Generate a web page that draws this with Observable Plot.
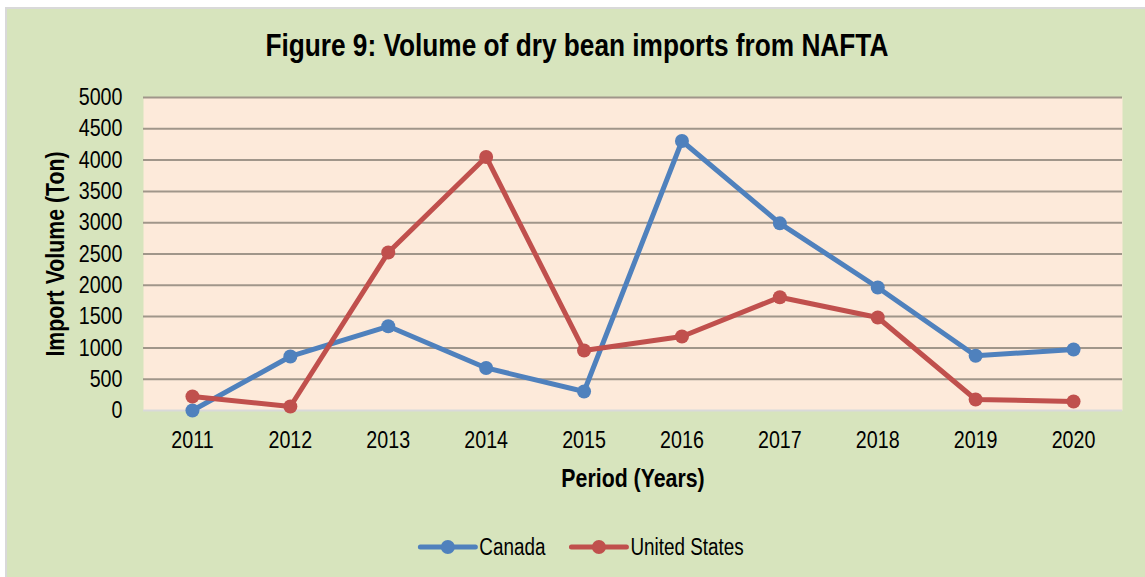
<!DOCTYPE html>
<html>
<head>
<meta charset="utf-8">
<script src="https://cdn.jsdelivr.net/npm/d3@7"></script>
<script src="https://cdn.jsdelivr.net/npm/@observablehq/plot@0.6"></script>
<style>
  html, body { margin: 0; padding: 0; background: #ffffff; }
  body { width: 1145px; height: 577px; overflow: hidden; position: relative;
         font-family: "Liberation Sans", Arial, sans-serif; }
  #frame { position: absolute; left: 5px; top: 7px; width: 1140px; height: 570px;
           border-left: 2px solid #d9d9d9; border-top: 2px solid #d9d9d9; background: #d7e4bd; }
  #title { position: absolute; left: 0; top: 18px; width: 100%; text-align: center;
           font-size: 32px; font-weight: bold; line-height: 36px; color: #000; }
  #title span { display: inline-block; transform: scaleX(0.82); transform-origin: center; white-space: nowrap; }
  #chart { position: absolute; left: 0; top: 0; }
  #chart svg, #legend svg { font-family: "Liberation Sans", Arial, sans-serif; }
  g[aria-label="x-axis label"] text, g[aria-label="y-axis label"] text { font-weight: bold; font-size: 26px; }
  #legend { position: absolute; left: 0; top: 512px; }
</style>
</head>
<body>
<div id="frame">
  <div id="title"><span>Figure 9: Volume of dry bean imports from NAFTA</span></div>
  <div id="chart"></div>
  <div id="legend"></div>
</div>
<script>
const years = ["2011","2012","2013","2014","2015","2016","2017","2018","2019","2020"];
const canada = [0, 863, 1345, 680, 303, 4305, 2990, 1965, 875, 975];
const unitedStates = [224, 64, 2524, 4050, 958, 1182, 1810, 1486, 176, 144];
const seriesNames = ["Canada", "United States"];
const seriesColors = ["#4f81bd", "#c0504d"];
const yTicks = d3.range(0, 5001, 500);

const data = [];
years.forEach((yr, i) => {
  data.push({year: yr, series: seriesNames[0], value: canada[i]});
  data.push({year: yr, series: seriesNames[1], value: unitedStates[i]});
});

const NARROW = 0.82;
function condense(svg) {
  svg.querySelectorAll("text").forEach(t => {
    const tr = t.getAttribute("transform") || "";
    t.setAttribute("transform", tr + ` scale(${NARROW},1)`);
  });
}

const chart = Plot.plot({
  width: 1138,
  height: 500,
  marginTop: 88,
  marginLeft: 136,
  marginRight: 23,
  marginBottom: 99,
  style: {background: "transparent", fontSize: "24px", color: "#000", overflow: "visible"},
  x: {type: "point", domain: years, padding: 0.5, round: false, label: "Period (Years)"},
  y: {domain: [0, 5000], label: "Import Volume (Ton)"},
  color: {domain: seriesNames, range: seriesColors},
  marks: [
    Plot.frame({fill: "#fdeada", stroke: null}),
    Plot.ruleY(yTicks.filter(d => d > 0), {stroke: "#a0968a", strokeWidth: 2}),
    Plot.ruleY([0], {stroke: "#d9d9d9", strokeWidth: 2}),
    Plot.axisY({ticks: yTicks, tickFormat: d => String(d), tickSize: 0, tickPadding: 21, fontSize: 24,
                label: "Import Volume (Ton)", labelAnchor: "center", labelArrow: "none", labelOffset: 98}),
    Plot.axisX({tickSize: 0, tickPadding: 20, fontSize: 24,
                label: "Period (Years)", labelAnchor: "center", labelArrow: "none", labelOffset: 76}),
    Plot.line(data, {x: "year", y: "value", stroke: "series", strokeWidth: 5, strokeLinejoin: "round"}),
    Plot.dot(data, {x: "year", y: "value", fill: "series", r: 7, stroke: null})
  ]
});
document.getElementById("chart").appendChild(chart);
condense(chart);

// legend
const lg = d3.select("#legend").append("svg").attr("width", 1138).attr("height", 50);
const swatchW = 55, gapText = 4, gapItem = 26, fs = 23;
const items = seriesNames.map((name, i) => {
  const g = lg.append("g");
  g.append("line").attr("x1", 0).attr("x2", swatchW).attr("y1", 0).attr("y2", 0)
    .attr("stroke", seriesColors[i]).attr("stroke-width", 5).attr("stroke-linecap", "round");
  g.append("circle").attr("cx", swatchW / 2).attr("cy", 0).attr("r", 7).attr("fill", seriesColors[i]);
  const t = g.append("text").attr("font-size", fs).attr("dy", "0.35em").attr("fill", "#000").text(name);
  const w = t.node().getComputedTextLength() * NARROW;
  t.attr("transform", `translate(${swatchW + gapText},0) scale(${NARROW},1)`);
  return {g, w: swatchW + gapText + w};
});
const total = items.reduce((s, it) => s + it.w, 0) + gapItem * (items.length - 1);
let xpos = 575 - total / 2;
items.forEach(it => {
  it.g.attr("transform", `translate(${xpos},26)`);
  xpos += it.w + gapItem;
});
</script>
</body>
</html>
